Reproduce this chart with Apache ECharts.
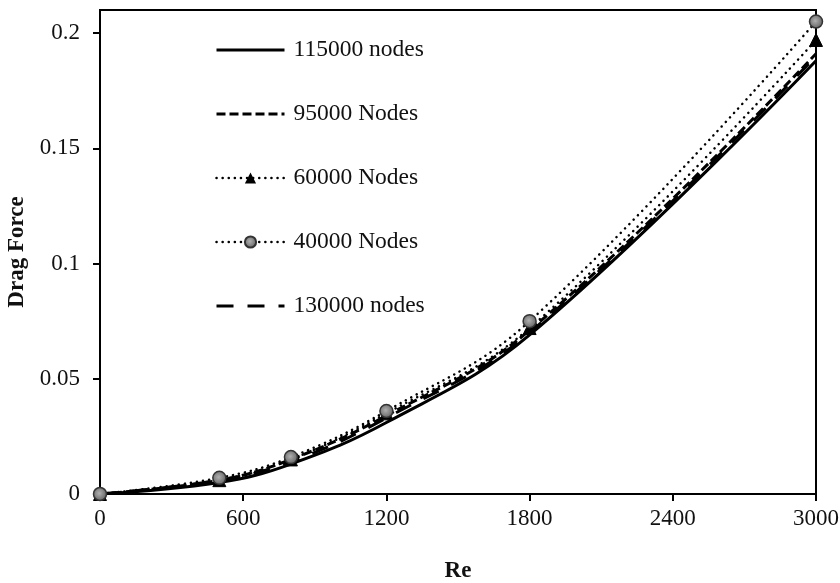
<!DOCTYPE html>
<html>
<head>
<meta charset="utf-8">
<script src="https://cdn.jsdelivr.net/npm/echarts@6/dist/echarts.min.js"></script>
<style>html,body{margin:0;padding:0;background:#fff}#c{width:840px;height:583px}</style>
</head>
<body>
<div id="c"></div>
<script>
const reValues = [0, 500, 800, 1200, 1800, 3000];
const seriesNames = ['115000 nodes', '95000 Nodes', '60000 Nodes', '40000 Nodes', '130000 nodes'];
const nodes115000 = [0, 0.005, 0.013, 0.031, 0.069, 0.188];
const nodes95000 = [0, 0.006, 0.015, 0.034, 0.071, 0.191];
const nodes60000 = [0, 0.006, 0.015, 0.035, 0.072, 0.197];
const nodes40000 = [0, 0.007, 0.016, 0.036, 0.075, 0.205];
const nodes130000 = [0, 0.006, 0.014, 0.033, 0.070, 0.190];
const xTicks = [0, 600, 1200, 1800, 2400, 3000];
const yTicks = [0, 0.05, 0.1, 0.15, 0.2];

const pairs = v => reValues.map((x, i) => [x, v[i]]);
const FONT = 'Liberation Serif';
const TXT = '#111';
const hidden = {color: 'rgba(0,0,0,0)', borderWidth: 0, opacity: 0};

const chart = echarts.init(document.getElementById('c'), null, {renderer: 'canvas'});
chart.setOption({
  backgroundColor: '#fff',
  animation: false,
  grid: {left: 100, right: 24, top: 10, bottom: 89, show: true, borderColor: '#000', borderWidth: 2,
    containLabel: false, outerBoundsMode: 'none'},
  legend: {
    left: 210, top: 33, orient: 'vertical',
    itemWidth: 68, itemHeight: 14, itemGap: 40,
    textStyle: {fontFamily: FONT, fontSize: 23.5, color: TXT, lineHeight: 24, padding: [0, 0, 0, 4]},
    data: [
      {name: seriesNames[0], itemStyle: hidden, lineStyle: {width: 3}},
      {name: seriesNames[1], itemStyle: hidden, lineStyle: {width: 3}},
      {name: seriesNames[2], lineStyle: {width: 2.5}},
      {name: seriesNames[3], lineStyle: {width: 2.5}},
      {name: seriesNames[4], itemStyle: hidden, lineStyle: {width: 3}}
    ]
  },
  xAxis: {
    type: 'value', min: 0, max: 3000, interval: 600,
    name: 'Re', nameLocation: 'middle', nameGap: 66,
    nameTextStyle: {fontFamily: FONT, fontSize: 23, fontWeight: 'bold', color: TXT},
    axisLine: {show: true, onZero: false, lineStyle: {color: '#000', width: 2}},
    axisTick: {show: true, length: 7, lineStyle: {color: '#000', width: 2}, customValues: xTicks},
    axisLabel: {fontFamily: FONT, fontSize: 23, color: TXT, margin: 13, customValues: xTicks,
      formatter: v => String(v)},
    splitLine: {show: false}
  },
  yAxis: {
    type: 'value', min: 0, max: 0.21, interval: 0.05,
    name: 'Drag Force', nameLocation: 'middle', nameGap: 69, nameRotate: 90,
    nameTextStyle: {fontFamily: FONT, fontSize: 23, fontWeight: 'bold', color: TXT},
    axisLine: {show: true, lineStyle: {color: '#000', width: 2}},
    axisTick: {show: true, length: 7, lineStyle: {color: '#000', width: 2}, customValues: yTicks},
    axisLabel: {fontFamily: FONT, fontSize: 23, color: TXT, margin: 20, customValues: yTicks,
      formatter: v => String(+v.toFixed(2))},
    splitLine: {show: false}
  },
  series: [
    {name: seriesNames[0], type: 'line', smooth: 0.4, symbol: 'none',
      lineStyle: {color: '#000', width: 3, type: 'solid'}, itemStyle: {color: '#000'}, data: pairs(nodes115000), z: 2},
    {name: seriesNames[1], type: 'line', smooth: 0.4, symbol: 'none',
      lineStyle: {color: '#000', width: 3, type: [9, 4]}, itemStyle: {color: '#000'}, data: pairs(nodes95000), z: 2},
    {name: seriesNames[2], type: 'line', smooth: 0.4, symbol: 'triangle', symbolSize: 13, showAllSymbol: true,
      lineStyle: {color: '#000', width: 2.5, type: [0.1, 6], cap: 'round'}, itemStyle: {color: '#000', borderColor: '#000'}, data: pairs(nodes60000), z: 3},
    {name: seriesNames[3], type: 'line', smooth: 0.4, symbol: 'circle', symbolSize: 13, showAllSymbol: true,
      lineStyle: {color: '#000', width: 2.5, type: [0.1, 6], cap: 'round'},
      itemStyle: {color: {type: 'radial', x: 0.45, y: 0.45, r: 0.6, colorStops: [{offset: 0, color: '#b0b0b0'}, {offset: 1, color: '#5a5a5a'}]}, borderColor: '#333', borderWidth: 1.5},
      data: pairs(nodes40000), z: 4},
    {name: seriesNames[4], type: 'line', smooth: 0.4, symbol: 'none',
      lineStyle: {color: '#000', width: 3, type: [17, 14]}, itemStyle: {color: '#000'}, data: pairs(nodes130000), z: 2}
  ]
});
</script>
</body>
</html>
